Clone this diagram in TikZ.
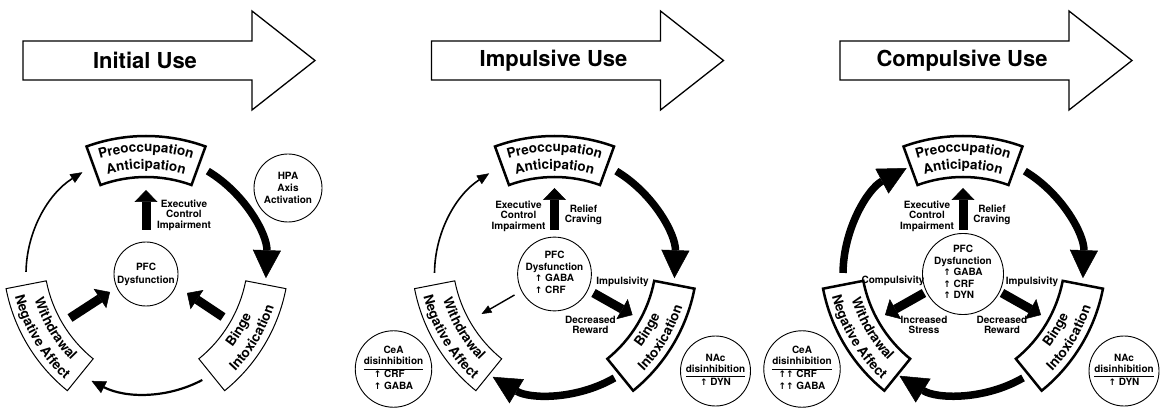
\documentclass[tikz,border=0pt]{standalone}
\usepackage{fontspec}
\setmainfont{TeX Gyre Heros}
\newfontfamily\dejavu{DejaVu Sans}
\usetikzlibrary{arrows.meta,decorations.text}
\newcommand\ua{{\dejavu\bfseries\fontsize{9}{9}\selectfont ↑}}
\newcommand\bxf{\bfseries\fontsize{13.5}{15}\selectfont}
\setlength\arrayrulewidth{1pt}
\renewcommand\arraystretch{1}

\tikzset{
  lbl/.style={font=\bfseries\fontsize{10}{10.5}\selectfont, align=center, inner sep=0pt},
  circ/.style={circle, draw, line width=0.9pt, minimum size=#1, inner sep=0pt,
    font=\bfseries\fontsize{10}{11.8}\selectfont, align=center},
  bigthick/.style={line width=7.5pt, -{Triangle[width=28pt,length=28pt,line width=0.5pt]}},
  thinarc/.style={line width=1.6pt, -{Triangle[width=10pt,length=12pt,line width=0.5pt]}},
  midarc/.style={line width=2.2pt, -{Triangle[width=13pt,length=14pt,line width=0.5pt]}},
  blockarr/.style={line width=9pt, -{Triangle[width=23pt,length=12pt,line width=0.5pt]}},
  smallarr/.style={line width=1.4pt, -{Triangle[width=8pt,length=10pt,line width=0.5pt]}},
  titlearrow/.style={draw, line width=1.3pt, fill=white},
  titletext/.style={font=\bfseries\fontsize{22}{24}\selectfont},
}

% stage box: #1 angle, #2 line width
\newcommand\stagebox[2]{%
  \begin{scope}[shift={({#1+180}:36)}]
    \draw[line width=#2, fill=white] ({#1+20}:174) arc[start angle={#1+20}, end angle={#1-20}, radius=174]
      -- ({#1-20}:133) arc[start angle={#1-20}, end angle={#1+20}, radius=133] -- cycle;
  \end{scope}}
% text with tops outward, reading clockwise
\newcommand\outtext[3]{%
  \begin{scope}[shift={({#1+180}:36)}]
    \path[decorate, decoration={text along path, text align=center, text={|\bxf|#3}}]
      ({#1+45}:#2) arc[start angle={#1+45}, end angle={#1-45}, radius=#2];
  \end{scope}}
% text with tops inward, reading counter-clockwise
\newcommand\intext[3]{%
  \begin{scope}[shift={({#1+180}:36)}]
    \path[decorate, decoration={text along path, text align=center, text={|\bxf|#3}}]
      ({#1-45}:#2) arc[start angle={#1-45}, end angle={#1+45}, radius=#2];
  \end{scope}}

\begin{document}
\begin{tikzpicture}[x=1pt,y=1pt]
\useasboundingbox (0,0) rectangle (1161,407);

% ---------- title arrows ----------
\foreach \L/\T/\nm in {23/Initial Use/t1, 431.5/Impulsive Use/t2, 840/Compulsive Use/t3}{
  \draw[titlearrow] (\L,366) -- (\L+229,366) -- (\L+229,396) -- (\L+292,346.5)
     -- (\L+229,297) -- (\L+229,327) -- (\L,327) -- cycle;
  \node[titletext] (\nm) at (\L+122,346.5) {\T};
}

% ================= Panel 1 =================
\begin{scope}[shift={(146,133)}]
  \stagebox{90}{2.5pt}
  \stagebox{-31}{1pt}
  \stagebox{211}{1pt}
  \outtext{90}{158}{Preoccupation}
  \outtext{90}{141}{Anticipation}
  \intext{-31}{149}{Binge}
  \intext{-31}{167}{Intoxication}
  \intext{211}{149}{Withdrawal}
  \intext{211}{167}{Negative Affect}
  \node[circ=64pt, font=\bfseries\fontsize{10}{13}\selectfont] (p1pfc) at (0,0) {PFC\\Dysfunction};
  \node[circ=68pt, font=\bfseries\fontsize{10}{12}\selectfont] (p1hpa) at (142,86) {HPA\\Axis\\Activation};
  \coordinate (p1r0) at (59:120);  \coordinate (p1b0) at (-62:120); \coordinate (p1l0) at (179:120);
  \draw[bigthick] (p1r0) arc[start angle=59, end angle=-2, radius=120];
  \draw[midarc] (p1b0) arc[start angle=-62, end angle=-117, radius=120];
  \draw[thinarc] (p1l0) arc[start angle=179, end angle=122, radius=120];
  \coordinate (p1u0) at (0,44); \coordinate (p1u1) at (0,84);
  \draw[blockarr] (p1u0) -- (p1u1);
  \coordinate (p1w0) at (-76,-44); \coordinate (p1w1) at (-36,-18);
  \draw[blockarr] (p1w0) -- (p1w1);
  \coordinate (p1g0) at (77,-43); \coordinate (p1g1) at (41,-19);
  \draw[blockarr] (p1g0) -- (p1g1);
  \node[lbl] (p1ex) at (38,59) {Executive\\Control\\Impairment};
\end{scope}

% ================= Panel 2 =================
\begin{scope}[shift={(554.5,133)}]
  \stagebox{90}{2.5pt}
  \stagebox{-31}{2.5pt}
  \stagebox{211}{1pt}
  \outtext{90}{158}{Preoccupation}
  \outtext{90}{141}{Anticipation}
  \intext{-31}{149}{Binge}
  \intext{-31}{167}{Intoxication}
  \intext{211}{149}{Withdrawal}
  \intext{211}{167}{Negative Affect}
  \node[circ=67pt] (p2pfc) at (0,0)
    {PFC\\Dysfunction\\\begin{tabular}[t]{@{}l@{}}\ua\ GABA\\\ua\ CRF\end{tabular}};
  \node[circ=72pt] (p2cea) at (-161,-95)
    {\begin{tabular}{@{}c@{}}CeA\\disinhibition\\\hline\begin{tabular}[t]{@{}l@{}}\ua\ CRF\\\ua\ GABA\end{tabular}\end{tabular}};
  \node[circ=70pt] (p2nac) at (161,-97)
    {\begin{tabular}{@{}c@{}}NAc\\disinhibition\\\hline\ua\ DYN\end{tabular}};
  \coordinate (p2r0) at (59:120);  \coordinate (p2b0) at (-60:120); \coordinate (p2l0) at (179.5:120);
  \draw[bigthick] (p2r0) arc[start angle=59, end angle=-2, radius=120];
  \draw[bigthick] (p2b0) arc[start angle=-60, end angle=-121, radius=120];
  \draw[thinarc] (p2l0) arc[start angle=179.5, end angle=123, radius=120];
  \coordinate (p2u0) at (0,44); \coordinate (p2u1) at (0,86);
  \draw[blockarr] (p2u0) -- (p2u1);
  \coordinate (p2g0) at (39,-19); \coordinate (p2g1) at (78,-41);
  \draw[blockarr] (p2g0) -- (p2g1);
  \coordinate (p2w0) at (-40,-21); \coordinate (p2w1) at (-73,-40);
  \draw[smallarr] (p2w0) -- (p2w1);
  \node[lbl] (p2ex) at (-36,58) {Executive\\Control\\Impairment};
  \node[lbl] (p2rc) at (29,59) {Relief\\Craving};
  \node[lbl] (p2im) at (68,-8) {Impulsivity};
  \node[lbl] (p2dr) at (36,-51) {Decreased\\Reward};
\end{scope}

% ================= Panel 3 =================
\begin{scope}[shift={(963,133)}]
  \stagebox{90}{2.5pt}
  \stagebox{-31}{2.5pt}
  \stagebox{211}{2.5pt}
  \outtext{90}{158}{Preoccupation}
  \outtext{90}{141}{Anticipation}
  \intext{-31}{149}{Binge}
  \intext{-31}{167}{Intoxication}
  \intext{211}{149}{Withdrawal}
  \intext{211}{167}{Negative Affect}
  \node[circ=68pt, font=\bfseries\fontsize{10}{11.5}\selectfont] (p3pfc) at (0,0)
    {PFC\\Dysfunction\\\begin{tabular}[t]{@{}l@{}}\ua\ GABA\\\ua\ CRF\\\ua\ DYN\end{tabular}};
  \node[circ=72pt] (p3cea) at (-161,-95)
    {\begin{tabular}{@{}c@{}}CeA\\disinhibition\\\hline\begin{tabular}[t]{@{}l@{}}\ua\ua\ CRF\\\ua\ua\ GABA\end{tabular}\end{tabular}};
  \node[circ=70pt] (p3nac) at (161,-97)
    {\begin{tabular}{@{}c@{}}NAc\\disinhibition\\\hline\ua\ DYN\end{tabular}};
  \coordinate (p3r0) at (59:120);  \coordinate (p3b0) at (-60:120); \coordinate (p3l0) at (179.5:120);
  \draw[bigthick] (p3r0) arc[start angle=59, end angle=-2, radius=120];
  \draw[bigthick] (p3b0) arc[start angle=-60, end angle=-122, radius=120];
  \draw[bigthick] (p3l0) arc[start angle=179.5, end angle=118, radius=120];
  \coordinate (p3u0) at (0,44); \coordinate (p3u1) at (0,86);
  \draw[blockarr] (p3u0) -- (p3u1);
  \coordinate (p3g0) at (39,-19); \coordinate (p3g1) at (78,-41);
  \draw[blockarr] (p3g0) -- (p3g1);
  \coordinate (p3w0) at (-39,-19); \coordinate (p3w1) at (-78,-41);
  \draw[blockarr] (p3w0) -- (p3w1);
  \node[lbl] (p3ex) at (-36,58) {Executive\\Control\\Impairment};
  \node[lbl] (p3rc) at (29,59) {Relief\\Craving};
  \node[lbl] (p3im) at (69,-8) {Impulsivity};
  \node[lbl] (p3dr) at (39,-51) {Decreased\\Reward};
  \node[lbl] (p3cp) at (-70,-7) {Compulsivity};
  \node[lbl] (p3is) at (-39,-51) {Increased\\Stress};
\end{scope}
\end{tikzpicture}
\end{document}
